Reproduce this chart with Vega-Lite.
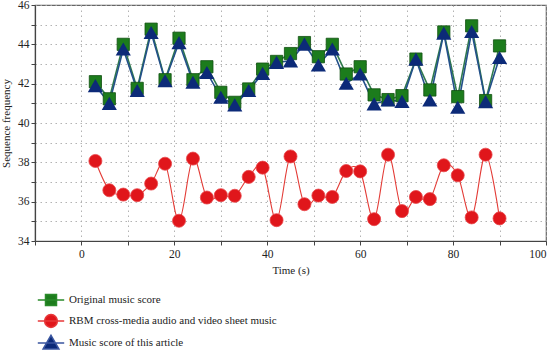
{
  "$schema": "https://vega.github.io/schema/vega-lite/v6.json",
  "width": 511,
  "height": 236,
  "autosize": "none",
  "padding": {"left": 35, "top": 5, "right": 8, "bottom": 109},
  "background": "white",
  "config": {
    "font": "'Liberation Serif', 'Times New Roman', serif",
    "view": {"stroke": "#666", "strokeWidth": 1.2},
    "axis": {
      "labelFont": "'Liberation Serif', 'Times New Roman', serif",
      "titleFont": "'Liberation Serif', 'Times New Roman', serif",
      "labelFontSize": 11.5,
      "titleFontSize": 11,
      "titleFontWeight": "normal",
      "labelColor": "#222",
      "titleColor": "#222",
      "domainColor": "#444",
      "domainWidth": 1.2,
      "tickColor": "#444",
      "tickSize": 4,
      "gridColor": "#aaa",
      "gridDash": [1.5, 3.5],
      "gridWidth": 0.9
    },
    "legend": {
      "labelFont": "'Liberation Serif', 'Times New Roman', serif",
      "labelFontSize": 11,
      "labelColor": "#222",
      "labelLimit": 500
    }
  },
  "data": {
    "values": [
      {"t": 3, "series": "Original music score", "v": 42.1},
      {"t": 6, "series": "Original music score", "v": 41.23},
      {"t": 9, "series": "Original music score", "v": 44.0},
      {"t": 12, "series": "Original music score", "v": 41.76},
      {"t": 15, "series": "Original music score", "v": 44.77},
      {"t": 18, "series": "Original music score", "v": 42.2},
      {"t": 21, "series": "Original music score", "v": 44.31},
      {"t": 24, "series": "Original music score", "v": 42.2},
      {"t": 27, "series": "Original music score", "v": 42.86},
      {"t": 30, "series": "Original music score", "v": 41.56},
      {"t": 33, "series": "Original music score", "v": 41.05},
      {"t": 36, "series": "Original music score", "v": 41.73},
      {"t": 39, "series": "Original music score", "v": 42.74},
      {"t": 42, "series": "Original music score", "v": 43.13},
      {"t": 45, "series": "Original music score", "v": 43.53},
      {"t": 48, "series": "Original music score", "v": 44.09},
      {"t": 51, "series": "Original music score", "v": 43.37},
      {"t": 54, "series": "Original music score", "v": 44.0},
      {"t": 57, "series": "Original music score", "v": 42.49},
      {"t": 60, "series": "Original music score", "v": 42.86},
      {"t": 63, "series": "Original music score", "v": 41.43},
      {"t": 66, "series": "Original music score", "v": 41.19},
      {"t": 69, "series": "Original music score", "v": 41.39},
      {"t": 72, "series": "Original music score", "v": 43.25},
      {"t": 75, "series": "Original music score", "v": 41.68},
      {"t": 78, "series": "Original music score", "v": 44.63},
      {"t": 81, "series": "Original music score", "v": 41.34},
      {"t": 84, "series": "Original music score", "v": 44.94},
      {"t": 87, "series": "Original music score", "v": 41.14},
      {"t": 90, "series": "Original music score", "v": 43.92},
      {"t": 3, "series": "RBM cross-media audio and video sheet music", "v": 38.07},
      {"t": 6, "series": "RBM cross-media audio and video sheet music", "v": 36.58},
      {"t": 9, "series": "RBM cross-media audio and video sheet music", "v": 36.36},
      {"t": 12, "series": "RBM cross-media audio and video sheet music", "v": 36.33},
      {"t": 15, "series": "RBM cross-media audio and video sheet music", "v": 36.92},
      {"t": 18, "series": "RBM cross-media audio and video sheet music", "v": 37.93},
      {"t": 21, "series": "RBM cross-media audio and video sheet music", "v": 35.03},
      {"t": 24, "series": "RBM cross-media audio and video sheet music", "v": 38.19},
      {"t": 27, "series": "RBM cross-media audio and video sheet music", "v": 36.21},
      {"t": 30, "series": "RBM cross-media audio and video sheet music", "v": 36.33},
      {"t": 33, "series": "RBM cross-media audio and video sheet music", "v": 36.3},
      {"t": 36, "series": "RBM cross-media audio and video sheet music", "v": 37.26},
      {"t": 39, "series": "RBM cross-media audio and video sheet music", "v": 37.73},
      {"t": 42, "series": "RBM cross-media audio and video sheet music", "v": 35.06},
      {"t": 45, "series": "RBM cross-media audio and video sheet music", "v": 38.3},
      {"t": 48, "series": "RBM cross-media audio and video sheet music", "v": 35.87},
      {"t": 51, "series": "RBM cross-media audio and video sheet music", "v": 36.31},
      {"t": 54, "series": "RBM cross-media audio and video sheet music", "v": 36.24},
      {"t": 57, "series": "RBM cross-media audio and video sheet music", "v": 37.56},
      {"t": 60, "series": "RBM cross-media audio and video sheet music", "v": 37.54},
      {"t": 63, "series": "RBM cross-media audio and video sheet music", "v": 35.11},
      {"t": 66, "series": "RBM cross-media audio and video sheet music", "v": 38.39},
      {"t": 69, "series": "RBM cross-media audio and video sheet music", "v": 35.52},
      {"t": 72, "series": "RBM cross-media audio and video sheet music", "v": 36.24},
      {"t": 75, "series": "RBM cross-media audio and video sheet music", "v": 36.13},
      {"t": 78, "series": "RBM cross-media audio and video sheet music", "v": 37.85},
      {"t": 81, "series": "RBM cross-media audio and video sheet music", "v": 37.34},
      {"t": 84, "series": "RBM cross-media audio and video sheet music", "v": 35.2},
      {"t": 87, "series": "RBM cross-media audio and video sheet music", "v": 38.39},
      {"t": 90, "series": "RBM cross-media audio and video sheet music", "v": 35.15},
      {"t": 3, "series": "Music score of this article", "v": 41.9},
      {"t": 6, "series": "Music score of this article", "v": 41.0},
      {"t": 9, "series": "Music score of this article", "v": 43.76},
      {"t": 12, "series": "Music score of this article", "v": 41.65},
      {"t": 15, "series": "Music score of this article", "v": 44.6},
      {"t": 18, "series": "Music score of this article", "v": 42.15},
      {"t": 21, "series": "Music score of this article", "v": 44.09},
      {"t": 24, "series": "Music score of this article", "v": 42.07},
      {"t": 27, "series": "Music score of this article", "v": 42.57},
      {"t": 30, "series": "Music score of this article", "v": 41.31},
      {"t": 33, "series": "Music score of this article", "v": 40.92},
      {"t": 36, "series": "Music score of this article", "v": 41.65},
      {"t": 39, "series": "Music score of this article", "v": 42.52},
      {"t": 42, "series": "Music score of this article", "v": 43.08},
      {"t": 45, "series": "Music score of this article", "v": 43.16},
      {"t": 48, "series": "Music score of this article", "v": 44.01},
      {"t": 51, "series": "Music score of this article", "v": 42.95},
      {"t": 54, "series": "Music score of this article", "v": 43.76},
      {"t": 57, "series": "Music score of this article", "v": 42.02},
      {"t": 60, "series": "Music score of this article", "v": 42.49},
      {"t": 63, "series": "Music score of this article", "v": 40.97},
      {"t": 66, "series": "Music score of this article", "v": 41.17},
      {"t": 69, "series": "Music score of this article", "v": 41.1},
      {"t": 72, "series": "Music score of this article", "v": 43.25},
      {"t": 75, "series": "Music score of this article", "v": 41.17},
      {"t": 78, "series": "Music score of this article", "v": 44.57},
      {"t": 81, "series": "Music score of this article", "v": 40.8},
      {"t": 84, "series": "Music score of this article", "v": 44.65},
      {"t": 87, "series": "Music score of this article", "v": 41.09},
      {"t": 90, "series": "Music score of this article", "v": 43.33}
    ]
  },
  "encoding": {
    "x": {
      "field": "t",
      "type": "quantitative",
      "title": "Time (s)",
      "scale": {"domain": [-10, 100], "nice": false, "zero": false},
      "axis": {
        "values": [-10, 0, 10, 20, 30, 40, 50, 60, 70, 80, 90, 100],
        "labelExpr": "datum.value % 20 === 0 ? datum.label : ''",
        "labelPadding": 3,
        "titlePadding": 5
      }
    },
    "y": {
      "field": "v",
      "type": "quantitative",
      "title": "Sequence frequency",
      "scale": {"domain": [34, 46], "nice": false, "zero": false},
      "axis": {
        "values": [34, 35, 36, 37, 38, 39, 40, 41, 42, 43, 44, 45, 46],
        "labelExpr": "datum.value % 2 === 0 ? datum.label : ''",
        "labelPadding": 2,
        "titlePadding": 6
      }
    }
  },
  "layer": [
    {
      "transform": [{"filter": "datum.series === 'Original music score'"}],
      "mark": {"type": "line", "color": "#2f7a4c", "strokeWidth": 1.6}
    },
    {
      "transform": [{"filter": "datum.series === 'Music score of this article'"}],
      "mark": {"type": "line", "color": "#23508a", "strokeWidth": 1.6}
    },
    {
      "transform": [{"filter": "datum.series === 'RBM cross-media audio and video sheet music'"}],
      "mark": {"type": "line", "color": "#e33b36", "strokeWidth": 1.1, "interpolate": "cardinal"}
    },
    {
      "transform": [{"filter": "datum.series === 'Original music score'"}],
      "mark": {"type": "point", "shape": "square", "filled": true, "size": 150, "fill": "#1c7c1c", "stroke": "#125012", "strokeWidth": 0.8, "opacity": 1}
    },
    {
      "transform": [{"filter": "datum.series === 'RBM cross-media audio and video sheet music'"}],
      "mark": {"type": "point", "shape": "circle", "filled": true, "size": 170, "fill": "#e0161b", "stroke": "#e8464a", "strokeWidth": 0.8, "opacity": 1}
    },
    {
      "transform": [{"filter": "datum.series === 'Music score of this article'"}],
      "mark": {"type": "point", "shape": "triangle-up", "filled": true, "size": 230, "fill": "#0c2a78", "opacity": 1}
    },
    {
      "transform": [{"filter": "datum.t < 0"}],
      "mark": {"type": "point", "filled": true, "strokeWidth": 1.3, "opacity": 1},
      "encoding": {
        "fill": {
          "field": "series",
          "type": "nominal",
          "scale": {
            "domain": ["Original music score", "RBM cross-media audio and video sheet music", "Music score of this article"],
            "range": ["#1c7c1c", "#e0161b", "#0c2a78"]
          },
          "legend": {
            "title": null,
            "orient": "none",
            "legendX": 0,
            "legendY": 283,
            "symbolSize": 484,
            "rowPadding": 0,
            "labelOffset": 6,
            "symbolOffset": 4
          }
        },
        "stroke": {
          "field": "series",
          "type": "nominal",
          "scale": {
            "domain": ["Original music score", "RBM cross-media audio and video sheet music", "Music score of this article"],
            "range": ["#2a8a2a", "#e8383a", "#3a56a0"]
          },
          "legend": {
            "title": null,
            "orient": "none",
            "legendX": 0,
            "legendY": 283,
            "symbolSize": 484,
            "rowPadding": 0,
            "labelOffset": 6,
            "symbolOffset": 4
          }
        },
        "shape": {
          "field": "series",
          "type": "nominal",
          "scale": {
            "domain": ["Original music score", "RBM cross-media audio and video sheet music", "Music score of this article"],
            "range": [
              "M-1.2,0H1.2M-0.5,-0.5H0.5V0.5H-0.5Z",
              "M-1.2,0H1.2M0.58,0A0.58,0.58,0,1,1,-0.58,0A0.58,0.58,0,1,1,0.58,0Z",
              "M-1.2,0H1.2M0,-0.7L0.72,0.55H-0.72Z"
            ]
          },
          "legend": {
            "title": null,
            "orient": "none",
            "legendX": 0,
            "legendY": 283,
            "symbolSize": 484,
            "rowPadding": 0,
            "labelOffset": 6,
            "symbolOffset": 4
          }
        }
      }
    }
  ]
}
